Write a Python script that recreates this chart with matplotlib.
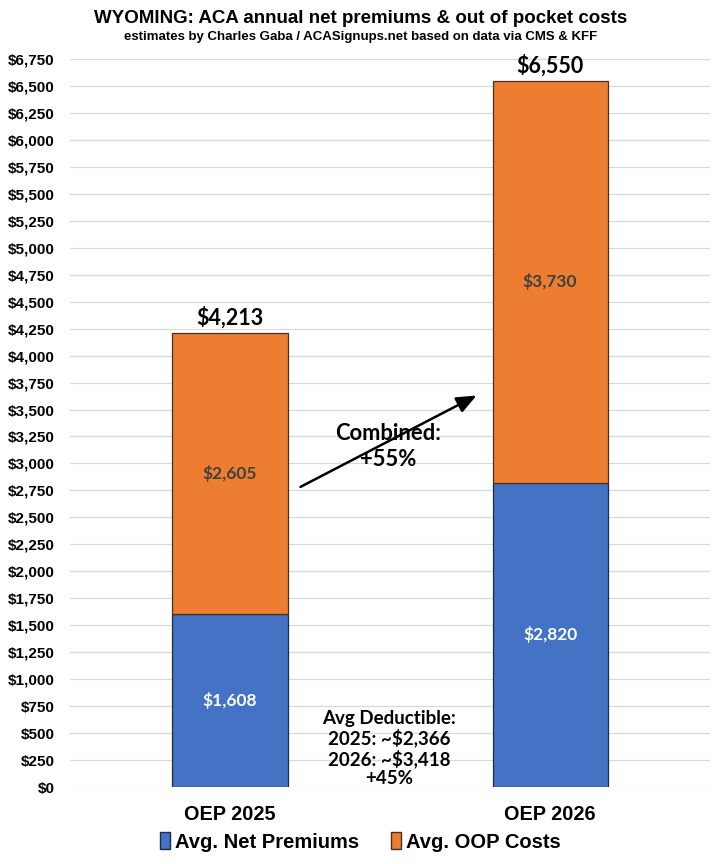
import matplotlib

matplotlib.use("Agg")
import matplotlib.pyplot as plt
import numpy as np
from matplotlib.patches import Patch

NARROW = ["Liberation Sans Narrow", "Liberation Sans", "DejaVu Sans"]
ROUND = ["Lato", "DejaVu Sans"]

categories = ["OEP 2025", "OEP 2026"]
net_premiums = [1608, 2820]
oop_costs = [2605, 3730]
totals = [4213, 6550]
yticks = np.arange(0, 6751, 250)

BLUE = "#4472C4"
ORANGE = "#ED7D31"

fig = plt.figure(figsize=(7.21, 8.64), dpi=100)
ax = fig.add_axes([0.097, 0.0891, 0.888, 0.8426])

x = np.arange(len(categories))
w = 0.36
ax.bar(x, net_premiums, w, color=BLUE, edgecolor="#1f2a44", lw=0.9, zorder=3,
       label="Avg. Net Premiums")
ax.bar(x, oop_costs, w, bottom=net_premiums, color=ORANGE, edgecolor="#4a3020",
       lw=0.9, zorder=3, label="Avg. OOP Costs")

for i in range(len(categories)):
    ax.text(x[i], net_premiums[i] / 2, f"${net_premiums[i]:,}", ha="center",
            va="center", color="white", fontsize=12.5, fontweight="bold",
            family=ROUND, zorder=4)
    ax.text(x[i], net_premiums[i] + oop_costs[i] / 2, f"${oop_costs[i]:,}",
            ha="center", va="center", color="#404040", fontsize=12.5,
            fontweight="bold", family=ROUND, zorder=4)
    ax.text(x[i], totals[i] + 40, f"${totals[i]:,}", ha="center", va="bottom",
            fontsize=15.5, fontweight="bold", family=ROUND, zorder=4)

ax.set_xlim(-0.5, 1.5)
ax.set_ylim(0, 6750)
ax.set_yticks(yticks)
ax.set_yticklabels([f"${v:,}" for v in yticks], fontsize=11, fontweight="bold",
                   family=NARROW)
ax.set_xticks(x)
ax.set_xticklabels(categories, fontsize=14.3, fontweight="bold", family=NARROW)
ax.tick_params(length=0, axis="y", pad=11)
ax.tick_params(length=0, axis="x", pad=13)
ax.grid(axis="y", color="#d9d9d9", lw=0.9, zorder=0)
for s in ax.spines.values():
    s.set_visible(False)

ax.annotate("", xy=(0.778, 3642), xytext=(0.2125, 2771),
            arrowprops=dict(arrowstyle="-|>,head_length=1.2,head_width=0.5",
                            color="black", lw=1.8), zorder=5)
ax.text(0.494, 3160, "Combined:\n+55%", ha="center", va="center", fontsize=15.8,
        fontweight="bold", family=ROUND, linespacing=1.3, zorder=6)
ax.text(0.497, 357, "Avg Deductible:\n2025: ~$2,366\n2026: ~$3,418\n+45%",
        ha="center", va="center", fontsize=13.5, fontweight="bold", family=ROUND,
        linespacing=1.12, zorder=6)

fig.text(0.5, 0.979, "WYOMING: ACA annual net premiums & out of pocket costs",
         ha="center", va="center", fontsize=13.5, fontweight="bold", family=NARROW)
fig.text(0.5, 0.957,
         "estimates by Charles Gaba / ACASignups.net based on data via CMS & KFF",
         ha="center", va="center", fontsize=9.5, fontweight="bold", family=NARROW)

handles = [Patch(facecolor=BLUE, edgecolor="#1f2a44"),
           Patch(facecolor=ORANGE, edgecolor="#4a3020")]
fig.legend(handles, ["Avg. Net Premiums", "Avg. OOP Costs"], loc="center",
           bbox_to_anchor=(0.5, 0.0255), ncol=2, frameon=False, handlelength=0.5,
           handleheight=0.9, handletextpad=0.25, columnspacing=1.6,
           prop=dict(family=NARROW, weight="bold", size=14.5))

fig.savefig("out.png", dpi=100)
